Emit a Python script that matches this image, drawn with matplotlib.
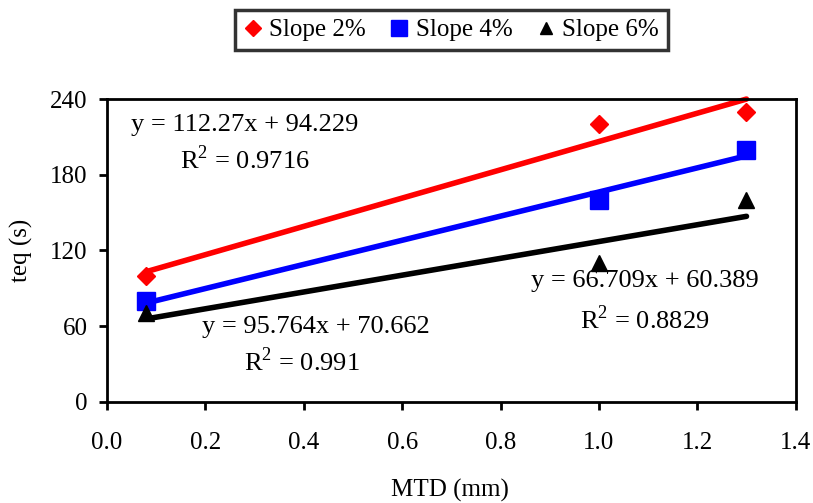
import numpy as np
import matplotlib
matplotlib.use("Agg")
import matplotlib.pyplot as plt

plt.rcParams['font.family'] = ['Liberation Serif', 'DejaVu Serif']
plt.rcParams['mathtext.fontset'] = 'custom'
plt.rcParams['mathtext.rm'] = 'Liberation Serif'

mtd = [0.08, 1.0, 1.3]
teq_2 = [100, 220, 230]
teq_4 = [80, 160, 200]
teq_6 = [70, 110, 160]

# trend line coefficients as printed on the chart
slopes = [112.27, 95.764, 66.709]
intercepts = [94.229, 70.662, 60.389]
r2 = ["0.9716", "0.991", "0.8829"]

names = ["Slope 2%", "Slope 4%", "Slope 6%"]
colors = ["#ff0000", "#0000ff", "#000000"]
markers = ["D", "s", "^"]
msizes = [9, 13, 11]

fs = 18

fig = plt.figure(figsize=(8.13, 5.03), dpi=100)
ax = fig.add_axes([0.1316, 0.2014, 0.9787 - 0.1316, 0.8026 - 0.2014])

series = [teq_2, teq_4, teq_6]
handles = []
for i in range(3):
    xs = np.array([mtd[0], mtd[-1]])
    ax.plot(xs, slopes[i] * xs + intercepts[i], color=colors[i], lw=4,
            solid_capstyle='round', zorder=2, clip_on=False)
    h, = ax.plot(mtd, series[i], ls='none', marker=markers[i], ms=msizes[i],
                 color=colors[i], label=names[i], zorder=3)
    handles.append(h)

# equation labels
eq_pos = [(0.28, 219.6, 191.8), (0.425, 59.4, 31.6), (1.094, 95.8, 64.8)]
r2_x = [0.28, 0.396, 1.094]
for i in range(3):
    x0, y0, y1 = eq_pos[i]
    ax.text(x0, y0, f"y = {slopes[i]}x + {intercepts[i]}", fontsize=fs + 1,
            ha='center', va='center')
    ax.text(r2_x[i], y1, "R$^2$ = " + r2[i], fontsize=fs + 1,
            ha='center', va='center')

ax.set_xlim(0, 1.4)
ax.set_ylim(0, 240)
ax.set_xticks(np.arange(0, 1.41, 0.2))
ax.set_xticklabels([f"{v:.1f}" for v in np.arange(0, 1.41, 0.2)])
ax.set_yticks(range(0, 241, 60))
ax.tick_params(labelsize=fs, width=2, length=6, direction='out')
ax.tick_params(axis='x', pad=16)
ax.tick_params(axis='y', pad=8)
for s in ax.spines.values():
    s.set_linewidth(2)

ax.set_xlabel("MTD (mm)", fontsize=fs)
ax.set_ylabel("teq (s)", fontsize=fs)
ax.xaxis.set_label_coords(0.498, -0.255)
ax.yaxis.set_label_coords(-0.107, 0.5)

leg = fig.legend(handles=handles, loc='center', ncol=3, fontsize=fs,
                 frameon=True, fancybox=False, handlelength=0.7,
                 handletextpad=0.3, columnspacing=1.0, borderpad=0.35,
                 markerscale=0.85)
leg.set_bbox_to_anchor((451.5 / 813, 1 - 30 / 503), transform=fig.transFigure)
leg.get_frame().set_edgecolor('black')
leg.get_frame().set_linewidth(2.5)

fig.savefig("out.png", dpi=100)
